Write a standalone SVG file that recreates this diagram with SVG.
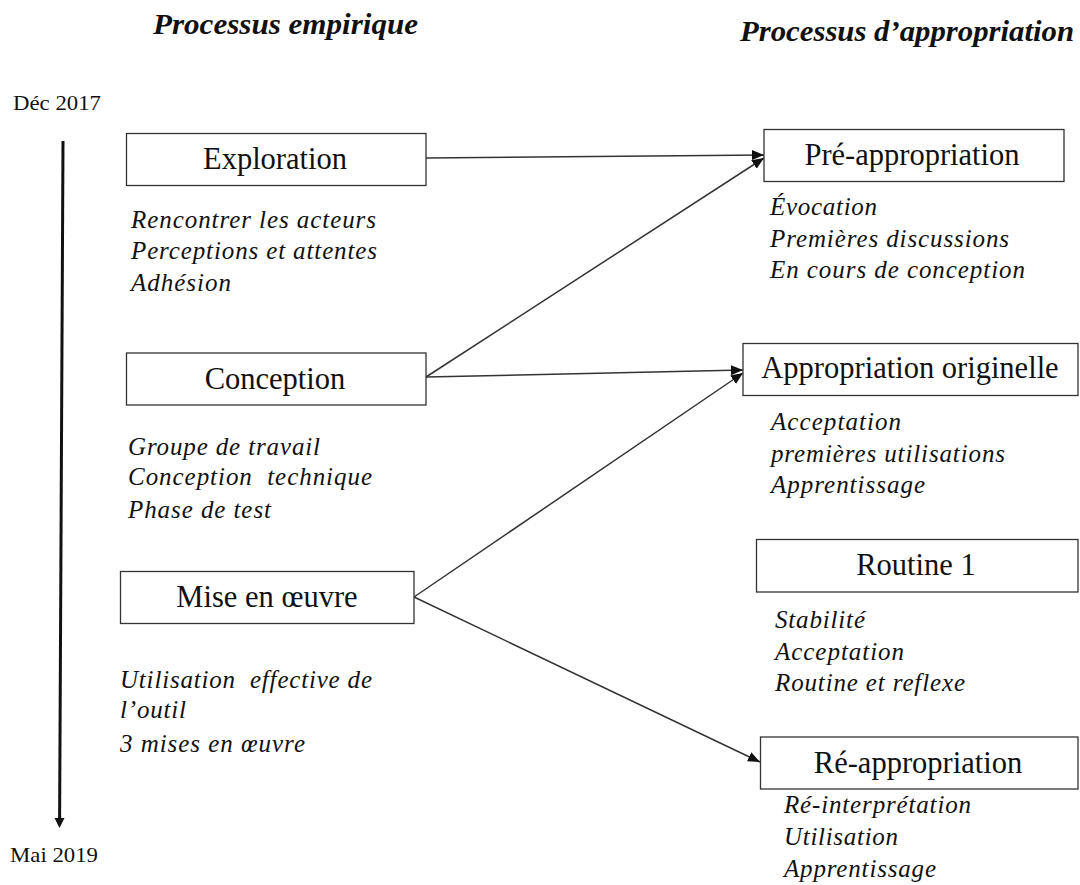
<svg xmlns="http://www.w3.org/2000/svg" width="1080" height="885" viewBox="0 0 1080 885">
<defs>
<style>
.title{font-family:"Liberation Serif","Times New Roman",serif;font-weight:bold;font-style:italic;font-size:29px;fill:#111}
.date{font-family:"Liberation Serif","Times New Roman",serif;font-size:22px;fill:#111}
.box{fill:#fff;stroke:#333;stroke-width:1.3}
.lbl{font-family:"Liberation Serif","Times New Roman",serif;font-size:30.5px;fill:#111;text-anchor:middle}
.it{font-family:"Liberation Serif","Times New Roman",serif;font-style:italic;font-size:25px;fill:#111;white-space:pre}
.conn{stroke:#333;stroke-width:1.5;fill:none}
</style>
<marker id="ah" markerUnits="userSpaceOnUse" markerWidth="13" markerHeight="11" refX="12" refY="5" orient="auto">
<path d="M0,0 L12,5 L0,10 z" fill="#111"/>
</marker>
</defs>
<rect width="1080" height="885" fill="#fff"/>

<g id="titles">
<text class="title" x="153" y="34" textLength="265" lengthAdjust="spacingAndGlyphs">Processus empirique</text>
<text class="title" x="740" y="41" textLength="334" lengthAdjust="spacingAndGlyphs">Processus d’appropriation</text>
</g>

<g id="timeline">
<text class="date" x="13" y="110" textLength="88" lengthAdjust="spacingAndGlyphs">Déc 2017</text>
<text class="date" x="10" y="862" textLength="88" lengthAdjust="spacingAndGlyphs">Mai 2019</text>
</g>

<g id="connectors">
<line x1="63" y1="141" x2="59.6" y2="820" stroke="#111" stroke-width="3"/>
<path d="M54.5,818 L64.5,818 L59.5,828 z" fill="#111"/>
<line class="conn" x1="426" y1="158" x2="764" y2="155" marker-end="url(#ah)"/>
<line class="conn" x1="426" y1="377" x2="764" y2="158" marker-end="url(#ah)"/>
<line class="conn" x1="426" y1="377" x2="743" y2="370" marker-end="url(#ah)"/>
<line class="conn" x1="414" y1="597" x2="743" y2="373" marker-end="url(#ah)"/>
<line class="conn" x1="414" y1="597" x2="760" y2="762" marker-end="url(#ah)"/>
</g>

<g id="exploration">
<rect class="box" x="126.5" y="133.5" width="299.5" height="52"/>
<text class="lbl" x="275" y="169">Exploration</text>
<text class="it" x="131" y="228" textLength="245" lengthAdjust="spacing">Rencontrer les acteurs</text>
<text class="it" x="131" y="259" textLength="246" lengthAdjust="spacing">Perceptions et attentes</text>
<text class="it" x="131" y="291" textLength="100" lengthAdjust="spacing">Adhésion</text>
</g>

<g id="conception">
<rect class="box" x="126.5" y="353" width="299.5" height="52"/>
<text class="lbl" x="275" y="389">Conception</text>
<text class="it" x="128" y="455" textLength="192" lengthAdjust="spacing">Groupe de travail</text>
<text class="it" x="128" y="485" textLength="244" lengthAdjust="spacing">Conception  technique</text>
<text class="it" x="128" y="518" textLength="143" lengthAdjust="spacing">Phase de test</text>
</g>

<g id="mise-en-oeuvre">
<rect class="box" x="120.5" y="571.5" width="293.5" height="52"/>
<text class="lbl" x="267" y="607">Mise en œuvre</text>
<text class="it" x="120" y="688" textLength="252" lengthAdjust="spacing">Utilisation  effective de</text>
<text class="it" x="120" y="718" textLength="66" lengthAdjust="spacing">l’outil</text>
<text class="it" x="120" y="752" textLength="185" lengthAdjust="spacing">3 mises en œuvre</text>
</g>

<g id="pre-appropriation">
<rect class="box" x="764" y="129.5" width="300" height="52"/>
<text class="lbl" x="912" y="165">Pré-appropriation</text>
<text class="it" x="770" y="215" textLength="107" lengthAdjust="spacing">Évocation</text>
<text class="it" x="770" y="247" textLength="239" lengthAdjust="spacing">Premières discussions</text>
<text class="it" x="770" y="278" textLength="255" lengthAdjust="spacing">En cours de conception</text>
</g>

<g id="appropriation-originelle">
<rect class="box" x="743" y="343.5" width="335" height="52"/>
<text class="lbl" x="910" y="378">Appropriation originelle</text>
<text class="it" x="771" y="430" textLength="130" lengthAdjust="spacing">Acceptation</text>
<text class="it" x="771" y="462" textLength="234" lengthAdjust="spacing">premières utilisations</text>
<text class="it" x="771" y="493" textLength="154" lengthAdjust="spacing">Apprentissage</text>
</g>

<g id="routine-1">
<rect class="box" x="756.5" y="539.5" width="321.5" height="52.5"/>
<text class="lbl" x="916" y="575">Routine 1</text>
<text class="it" x="775" y="628" textLength="90" lengthAdjust="spacing">Stabilité</text>
<text class="it" x="775" y="660" textLength="129" lengthAdjust="spacing">Acceptation</text>
<text class="it" x="775" y="691" textLength="190" lengthAdjust="spacing">Routine et reflexe</text>
</g>

<g id="re-appropriation">
<rect class="box" x="760.5" y="737" width="317.5" height="52"/>
<text class="lbl" x="918" y="773">Ré-appropriation</text>
<text class="it" x="784" y="813" textLength="187" lengthAdjust="spacing">Ré-interprétation</text>
<text class="it" x="784" y="845" textLength="114" lengthAdjust="spacing">Utilisation</text>
<text class="it" x="784" y="877" textLength="152" lengthAdjust="spacing">Apprentissage</text>
</g>
</svg>
